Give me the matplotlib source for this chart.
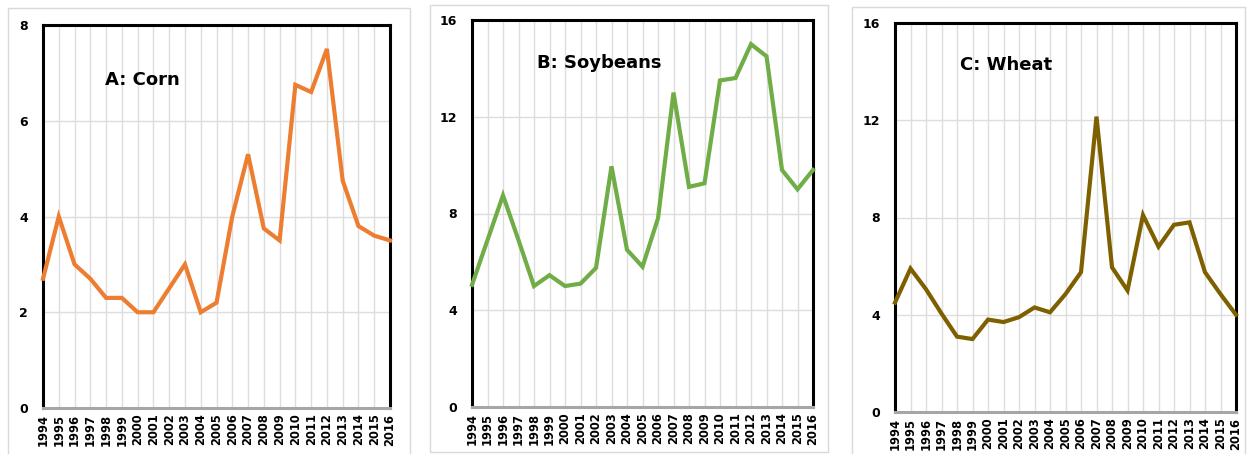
import matplotlib
matplotlib.use("Agg")
import matplotlib.pyplot as plt
from matplotlib.patches import Rectangle

years = [str(y) for y in range(1994, 2017)]

corn = [2.7, 4.0, 3.0, 2.7, 2.3, 2.3, 2.0, 2.0, 2.5, 3.0, 2.0, 2.2,
        4.0, 5.3, 3.75, 3.5, 6.75, 6.6, 7.5, 4.75, 3.8, 3.6, 3.5]
soybeans = [5.05, 6.9, 8.75, 6.9, 5.0, 5.45, 5.0, 5.1, 5.75, 9.95, 6.5, 5.8,
            7.8, 13.0, 9.1, 9.25, 13.5, 13.6, 15.0, 14.5, 9.8, 9.0, 9.8]
wheat = [4.5, 5.9, 5.05, 4.05, 3.1, 3.0, 3.8, 3.7, 3.9, 4.3, 4.1, 4.85,
         5.75, 12.15, 5.95, 5.0, 8.1, 6.8, 7.7, 7.8, 5.75, 4.85, 4.0]

corn_ticks = [0, 2, 4, 6, 8]
other_ticks = [0, 4, 8, 12, 16]

W, H = 1252, 454
fig = plt.figure(figsize=(W / 100, H / 100), dpi=100)
fig.patch.set_facecolor("white")

panels = [
    (corn, corn_ticks, "#ED7D31", "A: Corn", (43, 390, 25, 408), (8, 410, 8, 456), (0.285, 0.856)),
    (soybeans, other_ticks, "#70AD47", "B: Soybeans", (472, 813, 20, 407), (430, 828, 5, 452), (0.372, 0.889)),
    (wheat, other_ticks, "#7F6000", "C: Wheat", (895, 1236, 23, 412), (852, 1245, 7, 456), (0.326, 0.892)),
]

for vals, yt, col, title, (l, r, t, b), (bl, br, bt, bb), (tx, ty) in panels:
    fig.patches.append(Rectangle((bl / W, 1 - bb / H), (br - bl) / W, (bb - bt) / H,
                                 transform=fig.transFigure, fill=False,
                                 edgecolor="#D9D9D9", linewidth=1.0, zorder=0))
    ax = fig.add_axes([l / W, 1 - b / H, (r - l) / W, (b - t) / H])
    x = list(range(len(years)))
    ax.plot(x, vals, color=col, linewidth=3.0, solid_joinstyle="miter", zorder=3, clip_on=False)
    ax.set_xlim(0, len(years) - 1)
    ax.set_ylim(yt[0], yt[-1])
    ax.set_xticks(x)
    ax.set_xticklabels(years, rotation=90, fontsize=8.3, fontweight="bold")
    ax.set_yticks(yt)
    ax.set_yticklabels([str(v) for v in yt], fontsize=9, fontweight="bold")
    ax.tick_params(axis="both", length=0)
    ax.tick_params(axis="y", pad=11)
    ax.tick_params(axis="x", pad=4)
    ax.grid(True, color="#DDDDDD", linewidth=1.0, zorder=1)
    ax.set_axisbelow(True)
    for s in ("left", "right", "top"):
        ax.spines[s].set_color("black")
        ax.spines[s].set_linewidth(2.2)
    ax.spines["bottom"].set_color("#A6A6A6")
    ax.spines["bottom"].set_linewidth(2.2)
    ax.text(tx, ty, title, transform=ax.transAxes, ha="center", va="center",
            fontsize=13, fontweight="bold")

fig.savefig("out.png", dpi=100)
